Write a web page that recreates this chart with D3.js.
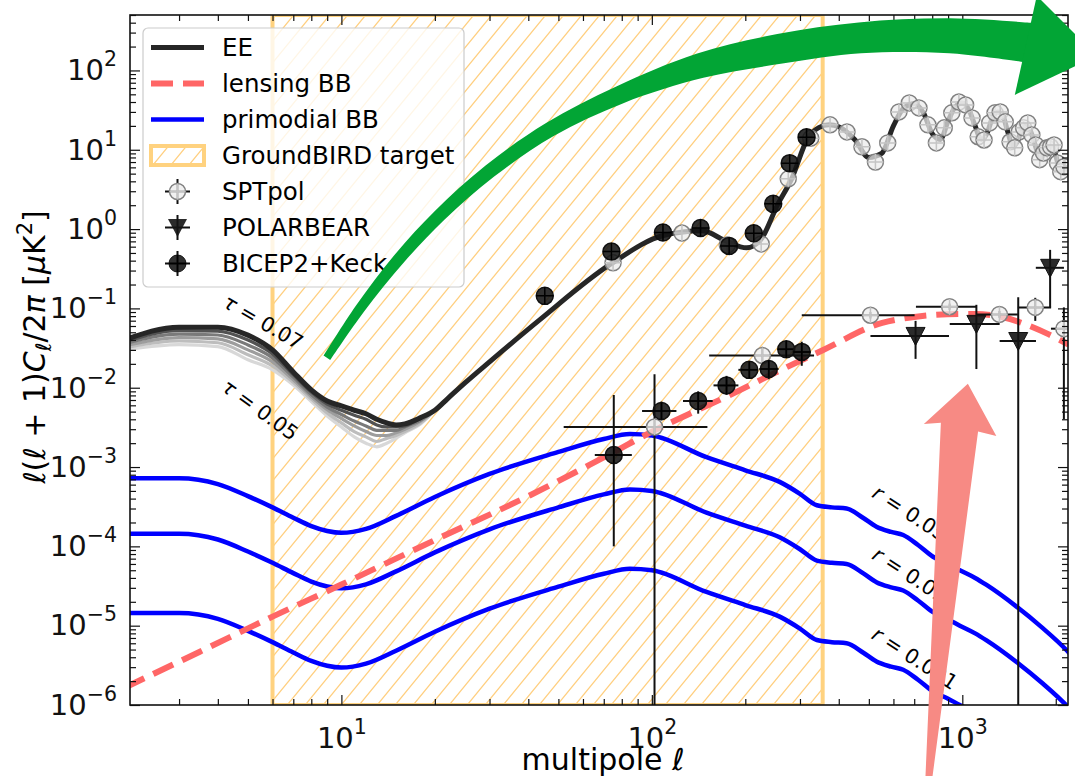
<!DOCTYPE html>
<html>
<head>
<meta charset="utf-8">
<script src="https://d3js.org/d3.v7.min.js"></script>
<style>
  body { margin: 0; background: #fff; }
  svg { display: block; font-family: "DejaVu Sans", sans-serif; }
</style>
</head>
<body>
<svg id="chart" width="1075" height="776"></svg>
<script>
// ---- data ----
// low-l EE reionization bump for tau = 0.05 ... 0.07
var lowEll   = [2, 3, 4, 5, 6, 7, 8, 9, 10, 11, 12, 13, 14, 15, 16, 18, 20];
var eeTau050 = [0.0300, 0.0350, 0.0330, 0.0225, 0.0168, 0.0108, 0.0067, 0.0044, 0.0032, 0.0024, 0.0020, 0.0018, 0.0020, 0.0023, 0.0027, 0.0035, 0.0052];
var eeTau054 = [0.0318, 0.0388, 0.0369, 0.0260, 0.0189, 0.0117, 0.0072, 0.0048, 0.0036, 0.0028, 0.0024, 0.0021, 0.0023, 0.0025, 0.0028, 0.0036, 0.0052];
var eeTau058 = [0.0337, 0.0429, 0.0413, 0.0300, 0.0212, 0.0126, 0.0077, 0.0053, 0.0041, 0.0033, 0.0028, 0.0025, 0.0025, 0.0027, 0.0030, 0.0038, 0.0052];
var eeTau062 = [0.0357, 0.0474, 0.0462, 0.0346, 0.0238, 0.0136, 0.0082, 0.0057, 0.0046, 0.0038, 0.0033, 0.0029, 0.0029, 0.0029, 0.0032, 0.0039, 0.0052];
var eeTau066 = [0.0378, 0.0525, 0.0518, 0.0399, 0.0267, 0.0146, 0.0088, 0.0062, 0.0052, 0.0045, 0.0040, 0.0034, 0.0032, 0.0032, 0.0033, 0.0041, 0.0052];
var eeTau070 = [0.0400, 0.0580, 0.0580, 0.0460, 0.0300, 0.0158, 0.0094, 0.0068, 0.0059, 0.0052, 0.0047, 0.0040, 0.0036, 0.0034, 0.0035, 0.0042, 0.0052];

// EE theory above l = 20
var eeEll = [22, 25, 30, 43.5, 74, 109, 145, 173, 202, 224, 254, 282, 318, 345, 372, 400, 450, 500, 550, 600, 650, 700, 750, 800, 850, 900, 950, 1000, 1050, 1100, 1150, 1200, 1250, 1300, 1350, 1400, 1450, 1500, 1550, 1600, 1650, 1700, 1750, 1800, 1850, 1900, 1950, 2000, 2050, 2100, 2200];
var eeVal = [0.0073, 0.0115, 0.0212, 0.0716, 0.366, 0.83, 0.95, 0.71, 0.58, 0.73, 2.02, 4.3, 14.0, 19.0, 20.6, 19.5, 13.5, 8.0, 9.0, 20, 34, 38, 29, 16, 13.5, 23, 35, 39, 32, 20, 13.5, 16, 25, 30, 27, 17, 11.5, 12.5, 17.5, 20.5, 18, 13, 9, 8, 9.5, 11, 11, 8.5, 6, 5.5, 6];

// lensing BB
var lensEll = [2, 3.5, 6, 10, 20, 40, 72, 102, 140, 174, 250, 355, 552, 700, 895, 1100, 1300, 1605, 1900, 2200];
var lensVal = [1.65e-6, 4.7e-6, 1.3e-5, 3.3e-5, 1.2e-4, 4.3e-4, 1.4e-3, 2.9e-3, 5.2e-3, 7.7e-3, 0.0155, 0.0297, 0.0656, 0.078, 0.0843, 0.085, 0.080, 0.0625, 0.047, 0.035];

// primordial BB for r = 0.05, 0.01, 0.001
var primEll  = [2, 3, 4, 5, 6, 7, 8, 9, 10, 12, 15, 20, 30, 50, 70, 85, 100, 150, 200, 258, 300, 340, 380, 424, 480, 529, 590, 645, 720, 805, 900, 982, 1100, 1197, 1495, 1800, 2168, 2300];
var primR005 = [7.2e-4, 7.2e-4, 6.1e-4, 4.3e-4, 3.1e-4, 2.3e-4, 1.8e-4, 1.56e-4, 1.48e-4, 1.66e-4, 2.42e-4, 4.2e-4, 8.2e-4, 1.55e-3, 2.26e-3, 2.61e-3, 2.5e-3, 1.33e-3, 9.1e-4, 6.5e-4, 4.6e-4, 3.3e-4, 3.1e-4, 3.0e-4, 2.28e-4, 1.77e-4, 1.52e-4, 1.39e-4, 1.04e-4, 7.4e-5, 6.0e-5, 5.0e-5, 4.0e-5, 3.26e-5, 1.74e-5, 9.6e-6, 4.9e-6, 3.8e-6];
var primR001 = [1.44e-4, 1.44e-4, 1.22e-4, 8.6e-5, 6.2e-5, 4.6e-5, 3.6e-5, 3.12e-5, 2.96e-5, 3.32e-5, 4.84e-5, 8.4e-5, 1.64e-4, 3.1e-4, 4.52e-4, 5.22e-4, 5.0e-4, 2.66e-4, 1.82e-4, 1.3e-4, 9.2e-5, 6.6e-5, 6.2e-5, 6.0e-5, 4.56e-5, 3.54e-5, 3.04e-5, 2.78e-5, 2.08e-5, 1.48e-5, 1.2e-5, 1.0e-5, 8.0e-6, 6.52e-6, 3.48e-6, 1.92e-6, 9.8e-7, 7.6e-7];
var primR0001 = [1.44e-5, 1.44e-5, 1.22e-5, 8.6e-6, 6.2e-6, 4.6e-6, 3.6e-6, 3.12e-6, 2.96e-6, 3.32e-6, 4.84e-6, 8.4e-6, 1.64e-5, 3.1e-5, 4.52e-5, 5.22e-5, 5.0e-5, 2.66e-5, 1.82e-5, 1.3e-5, 9.2e-6, 6.6e-6, 6.2e-6, 6.0e-6, 4.56e-6, 3.54e-6, 3.04e-6, 2.78e-6, 2.08e-6, 1.48e-6, 1.2e-6, 1.0e-6, 8.0e-7, 6.52e-7, 3.48e-7, 1.92e-7, 9.8e-8, 7.6e-8];

// GroundBIRD multipole range
var targetRange = [6, 355];

// SPTpol EE band powers
var sptEEEll = [75, 125, 175, 225, 275, 325, 375, 425, 475, 525, 575, 625, 675, 725, 775, 825, 875, 925, 975, 1025, 1075, 1125, 1175, 1225, 1275, 1325, 1375, 1425, 1475, 1525, 1575, 1625, 1675, 1725, 1775, 1825, 1875, 1925, 1975, 2025, 2075, 2125];
var sptEEVal = [0.375, 0.891, 0.628, 0.650, 4.30, 14.0, 20.6, 16.8, 10.9, 7.0, 12.2, 30.0, 39.0, 33.7, 20.6, 12.2, 18.9, 29.2, 40.0, 36.8, 25.2, 14.6, 13.3, 21.8, 29.2, 30.0, 22.5, 12.6, 10.6, 16.8, 18.9, 21.8, 15.4, 11.5, 7.5, 9.1, 10.6, 10.9, 11.5, 6.8, 5.3, 6.1];

// BICEP2+Keck EE
var bkEEEll = [45.2, 74.1, 108.6, 143.5, 177.4, 213, 246, 278, 315];
var bkEEVal = [0.144, 0.52, 0.904, 1.03, 0.614, 0.888, 2.08, 6.78, 14.4];

// SPTpol BB
var sptBBEll   = [102, 227, 506, 910, 1317, 1718, 2124];
var sptBBVal   = [0.0032, 0.0255, 0.082, 0.105, 0.084, 0.103, 0.0555];
var sptBBEllLo = [52, 153, 304, 709, 1110, 1510, 1930];
var sptBBEllHi = [151, 333, 702, 1107, 1510, 1932, 2320];
var sptBBLo    = [1e-9, 0.020, 0.0745, 0.096, 0.076, 0.0696, 0.0040];
var sptBBHi    = [0.0148, 0.0327, 0.090, 0.115, 0.093, 0.136, 0.103];

// POLARBEAR BB
var pbEll   = [707, 1110, 1514, 1918];
var pbVal   = [0.045, 0.0638, 0.0388, 0.325];
var pbEllLo = [506, 911, 1319, 1725];
var pbEllHi = [906, 1319, 1727, 2125];
var pbLo    = [0.0231, 0.0172, 1e-9, 0.103];
var pbHi    = [0.0696, 0.111, 0.138, 0.547];

// BICEP2+Keck BB
var bkBBEll   = [75.4, 107.4, 141, 174, 206, 238, 271, 304];
var bkBBVal   = [0.00142, 0.0051, 0.0068, 0.0107, 0.0168, 0.0172, 0.0306, 0.0283];
var bkBBEllLo = [65.5, 93, 126, 158, 190, 222, 256, 288];
var bkBBEllHi = [86.2, 120, 157, 190, 218, 256, 288, 322];
var bkBBLo    = [1.0e-4, 0.00387, 0.00471, 0.00813, 0.0134, 0.0128, 0.0243, 0.0189];
var bkBBHi    = [0.0081, 0.00668, 0.0090, 0.0141, 0.021, 0.0217, 0.038, 0.038];

// ticks
var xMajor = [10, 100, 1000];
var yMajor = [1e-6, 1e-5, 1e-4, 1e-3, 1e-2, 1e-1, 1, 10, 100];

var legendLabels = ["EE", "lensing BB", "primodial BB", "GroundBIRD target", "SPTpol", "POLARBEAR", "BICEP2+Keck"];

// ---- layout ----
var axL = 130, axR = 1068, axT = 15, axB = 705;
var svg = d3.select("#chart");

var x = d3.scaleLog().domain([2.085, 2190]).range([axL, axR]);
var y = d3.scaleLog().domain([1e-6, 500]).range([axB, axT]);

var defs = svg.append("defs");
defs.append("clipPath").attr("id", "plotclip")
  .append("rect").attr("x", axL).attr("y", axT)
  .attr("width", axR - axL).attr("height", axB - axT);
var hatch = defs.append("pattern").attr("id", "hatch")
  .attr("patternUnits", "userSpaceOnUse").attr("width", 18).attr("height", 22);
hatch.append("path").attr("d", "M-3,3.67 L3,-3.67 M0,22 L18,0 M15,25.67 L21,18.33")
  .attr("stroke", "#ffcf80").attr("stroke-width", 1.3);

var plot = svg.append("g").attr("clip-path", "url(#plotclip)");

// target band
plot.append("rect")
  .attr("x", x(targetRange[0])).attr("y", axT)
  .attr("width", x(targetRange[1]) - x(targetRange[0])).attr("height", axB - axT)
  .attr("fill", "url(#hatch)").attr("stroke", "#ffd27f").attr("stroke-width", 4);

var line = d3.line().x(function (d) { return x(d[0]); }).y(function (d) { return y(d[1]); })
  .curve(d3.curveMonotoneX);
function pairs(ell, val) { return ell.map(function (l, i) { return [l, val[i]]; }); }

// EE, light tau first, darkest last (continues as the full EE spectrum)
var tauSets = [eeTau050, eeTau054, eeTau058, eeTau062, eeTau066];
var tauColors = ["#d8d8d8", "#bdbdbd", "#9d9d9d", "#7a7a7a", "#525252"];
tauSets.forEach(function (vals, i) {
  plot.append("path").attr("d", line(pairs(lowEll, vals)))
    .attr("fill", "none").attr("stroke", tauColors[i]).attr("stroke-width", 3.2)
    .attr("stroke-linejoin", "round");
});
plot.append("path").attr("d", line(pairs(lowEll, eeTau070).concat(pairs(eeEll, eeVal))))
  .attr("fill", "none").attr("stroke", "#262626").attr("stroke-width", 5)
  .attr("stroke-linejoin", "round");

// primordial BB
[primR005, primR001, primR0001].forEach(function (vals) {
  plot.append("path").attr("d", line(pairs(primEll, vals)))
    .attr("fill", "none").attr("stroke", "#0000ff").attr("stroke-width", 4.5);
});

// lensing BB
plot.append("path").attr("d", line(pairs(lensEll, lensVal)))
  .attr("fill", "none").attr("stroke", "#ff6666").attr("stroke-width", 6)
  .attr("stroke-dasharray", "22,10");

// error bars
function errorbars(ell, val, ellLo, ellHi, lo, hi) {
  var g = plot.append("g").attr("stroke", "#111").attr("stroke-width", 2);
  ell.forEach(function (l, i) {
    g.append("line").attr("x1", x(ellLo[i])).attr("x2", x(ellHi[i]))
      .attr("y1", y(val[i])).attr("y2", y(val[i]));
    g.append("line").attr("x1", x(l)).attr("x2", x(l))
      .attr("y1", y(lo[i])).attr("y2", y(hi[i]));
  });
}

function circles(ell, val, r, fill, stroke, crossColor) {
  var g = plot.append("g");
  ell.forEach(function (l, i) {
    var cx = x(l), cy = y(val[i]);
    g.append("circle").attr("cx", cx).attr("cy", cy).attr("r", r)
      .attr("fill", fill).attr("stroke", stroke).attr("stroke-width", 1.5);
    g.append("path").attr("d", "M" + (cx - r) + "," + cy + "h" + (2 * r) + "M" + cx + "," + (cy - r) + "v" + (2 * r))
      .attr("stroke", crossColor).attr("stroke-width", 1.5);
  });
}

function triangles(ell, val) {
  var g = plot.append("g");
  ell.forEach(function (l, i) {
    g.append("path")
      .attr("transform", "translate(" + x(l) + "," + y(val[i]) + ")")
      .attr("d", "M-9.5,-8.5 L9.5,-8.5 L0,9.5 Z")
      .attr("fill", "rgba(20,20,20,0.9)").attr("stroke", "#111").attr("stroke-width", 1);
  });
}

var sptFill = "rgba(236,236,236,0.72)", bkFill = "rgba(20,20,20,0.88)";
circles(sptEEEll, sptEEVal, 8, sptFill, "#808080", "#c4c4c4");
circles(bkEEEll, bkEEVal, 8.5, bkFill, "#111", "#000");

errorbars(sptBBEll, sptBBVal, sptBBEllLo, sptBBEllHi, sptBBLo, sptBBHi);
circles(sptBBEll, sptBBVal, 8, sptFill, "#808080", "#c4c4c4");
errorbars(pbEll, pbVal, pbEllLo, pbEllHi, pbLo, pbHi);
triangles(pbEll, pbVal);
errorbars(bkBBEll, bkBBVal, bkBBEllLo, bkBBEllHi, bkBBLo, bkBBHi);
circles(bkBBEll, bkBBVal, 8.5, bkFill, "#111", "#000");

// curve annotations
function note(ell, val, angle, parts) {
  var t = svg.append("text")
    .attr("transform", "translate(" + x(ell) + "," + y(val) + ") rotate(" + angle + ")")
    .attr("text-anchor", "middle").attr("dominant-baseline", "central")
    .attr("font-size", 20.5).attr("fill", "#000");
  parts.forEach(function (p) {
    t.append("tspan").attr("font-style", p[1] ? "italic" : null).text(p[0]);
  });
}
note(5.60, 0.0670, 30, [["τ", 1], [" = 0.07", 0]]);
note(5.47, 0.00525, 36, [["τ", 1], [" = 0.05", 0]]);
note(678, 2.61e-4, 33, [["r", 1], [" = 0.05", 0]]);
note(678, 4.35e-5, 33, [["r", 1], [" = 0.01", 0]]);
note(703, 3.88e-6, 33, [["r", 1], [" = 0.001", 0]]);

// ---- axes ----
var xMinor = [], yMinor = [];
[1, 10, 100, 1000].forEach(function (d) {
  for (var m = 2; m <= 9; m++) { if (m * d >= 2.085 && m * d <= 2190) xMinor.push(m * d); }
});
yMajor.forEach(function (d) {
  for (var m = 2; m <= 9; m++) { if (m * d <= 500) yMinor.push(m * d); }
});
function sup(v) { var e = Math.round(Math.log10(v)); return (e < 0 ? "\u2212" : "") + Math.abs(e); }

function styleAxis(g) {
  g.select(".domain").remove();
  g.attr("color", "#111").attr("font-family", "DejaVu Sans").attr("font-size", 29);
  g.selectAll(".tick line").attr("stroke-width", 1.2);
}

var gxb = svg.append("g").attr("transform", "translate(0," + axB + ")")
  .call(d3.axisBottom(x).tickValues(xMajor).tickSizeInner(-10).tickSizeOuter(0).tickPadding(22).tickFormat(""))
  .call(styleAxis);
gxb.selectAll(".tick text").each(function (d) {
  var t = d3.select(this);
  t.append("tspan").text("10");
  t.append("tspan").attr("dy", -14).attr("font-size", 20.5).text(sup(d));
});
svg.append("g").attr("transform", "translate(0," + axB + ")")
  .call(d3.axisBottom(x).tickValues(xMinor).tickSizeInner(-6).tickSizeOuter(0).tickFormat(""))
  .call(styleAxis);
svg.append("g").attr("transform", "translate(0," + axT + ")")
  .call(d3.axisTop(x).tickValues(xMajor).tickSizeInner(-10).tickSizeOuter(0).tickFormat(""))
  .call(styleAxis);
svg.append("g").attr("transform", "translate(0," + axT + ")")
  .call(d3.axisTop(x).tickValues(xMinor).tickSizeInner(-6).tickSizeOuter(0).tickFormat(""))
  .call(styleAxis);

var gyl = svg.append("g").attr("transform", "translate(" + axL + ",0)")
  .call(d3.axisLeft(y).tickValues(yMajor).tickSizeInner(-10).tickSizeOuter(0).tickPadding(13).tickFormat(""))
  .call(styleAxis);
gyl.selectAll(".tick text").each(function (d) {
  var t = d3.select(this);
  t.append("tspan").text("10");
  t.append("tspan").attr("dy", -14).attr("font-size", 20.5).text(sup(d));
});
svg.append("g").attr("transform", "translate(" + axL + ",0)")
  .call(d3.axisLeft(y).tickValues(yMinor).tickSizeInner(-6).tickSizeOuter(0).tickFormat(""))
  .call(styleAxis);
svg.append("g").attr("transform", "translate(" + axR + ",0)")
  .call(d3.axisRight(y).tickValues(yMajor).tickSizeInner(-10).tickSizeOuter(0).tickFormat(""))
  .call(styleAxis);
svg.append("g").attr("transform", "translate(" + axR + ",0)")
  .call(d3.axisRight(y).tickValues(yMinor).tickSizeInner(-6).tickSizeOuter(0).tickFormat(""))
  .call(styleAxis);

svg.append("rect").attr("x", axL).attr("y", axT)
  .attr("width", axR - axL).attr("height", axB - axT)
  .attr("fill", "none").attr("stroke", "#111").attr("stroke-width", 1.6);

// axis labels
var xl = svg.append("text").attr("x", (axL + axR) / 2 + 4).attr("y", 770)
  .attr("text-anchor", "middle").attr("font-size", 30);
xl.append("tspan").text("multipole ");
xl.append("tspan").attr("font-style", "italic").text("ℓ");

var yl = svg.append("text").attr("transform", "translate(45,347) rotate(-90)")
  .attr("text-anchor", "middle").attr("font-size", 30);
yl.append("tspan").attr("font-style", "italic").text("ℓ");
yl.append("tspan").text("(");
yl.append("tspan").attr("font-style", "italic").text("ℓ");
yl.append("tspan").text(" + 1)");
yl.append("tspan").attr("font-style", "italic").text("C");
yl.append("tspan").attr("font-style", "italic").attr("font-size", 21).attr("dy", 6).text("ℓ");
yl.append("tspan").attr("dy", -6).text("/2");
yl.append("tspan").attr("font-style", "italic").text("π");
yl.append("tspan").text(" [");
yl.append("tspan").attr("font-style", "italic").text("μ");
yl.append("tspan").text("K");
yl.append("tspan").attr("font-size", 21).attr("dy", -13).text("2");
yl.append("tspan").attr("dy", 13).text("]");

// ---- legend ----
var lg = svg.append("g");
lg.append("rect").attr("x", 143).attr("y", 28).attr("width", 321).attr("height", 259).attr("rx", 5)
  .attr("fill", "rgba(255,255,255,0.8)").attr("stroke", "#cccccc").attr("stroke-width", 1.2);
var ly = function (i) { return 47.5 + i * 36; };
var hx0 = 151, hx1 = 204, hxc = 177.5;
lg.append("line").attr("x1", hx0).attr("x2", hx1).attr("y1", ly(0)).attr("y2", ly(0))
  .attr("stroke", "#262626").attr("stroke-width", 5);
lg.append("line").attr("x1", hx0).attr("x2", hx1).attr("y1", ly(1)).attr("y2", ly(1))
  .attr("stroke", "#ff6666").attr("stroke-width", 6).attr("stroke-dasharray", "22,10");
lg.append("line").attr("x1", hx0).attr("x2", hx1).attr("y1", ly(2)).attr("y2", ly(2))
  .attr("stroke", "#0000ff").attr("stroke-width", 4.5);
lg.append("rect").attr("x", hx0).attr("y", ly(3) - 9.5).attr("width", hx1 - hx0).attr("height", 19)
  .attr("fill", "url(#hatch)").attr("stroke", "#ffd27f").attr("stroke-width", 4);
function legendCross(cy, color) {
  lg.append("path").attr("d", "M" + (hxc - 12.5) + "," + cy + "h25M" + hxc + "," + (cy - 12.5) + "v25")
    .attr("stroke", color).attr("stroke-width", 2);
}
legendCross(ly(4), "#111");
lg.append("circle").attr("cx", hxc).attr("cy", ly(4)).attr("r", 8)
  .attr("fill", sptFill).attr("stroke", "#808080").attr("stroke-width", 1.5);
lg.append("path").attr("d", "M" + (hxc - 8) + "," + ly(4) + "h16M" + hxc + "," + (ly(4) - 8) + "v16")
  .attr("stroke", "#c4c4c4").attr("stroke-width", 1.5);
legendCross(ly(5), "#111");
lg.append("path").attr("transform", "translate(" + hxc + "," + ly(5) + ")")
  .attr("d", "M-9.5,-8.5 L9.5,-8.5 L0,9.5 Z").attr("fill", "rgba(20,20,20,0.9)");
legendCross(ly(6), "#111");
lg.append("circle").attr("cx", hxc).attr("cy", ly(6)).attr("r", 8.5)
  .attr("fill", bkFill).attr("stroke", "#111");
lg.append("path").attr("d", "M" + (hxc - 8.5) + "," + ly(6) + "h17M" + hxc + "," + (ly(6) - 8.5) + "v17")
  .attr("stroke", "#000").attr("stroke-width", 1.5);
legendLabels.forEach(function (s, i) {
  lg.append("text").attr("x", 222).attr("y", ly(i)).attr("dominant-baseline", "central")
    .attr("font-size", 24.5).attr("fill", "#000").text(s);
});

// ---- overlay arrows (anchored in data coordinates) ----
var greenEll = [8.98, 11.47, 15.43, 20.76, 30.08, 46.94, 78.87, 142.8, 258.4, 467.8, 911.3, 1650];
var greenVal = [0.0238, 0.0991, 0.434, 1.502, 5.387, 18.03, 49.24, 114.3, 187.3, 257.7, 273.1, 222.8];
var greenWidth = [8, 10, 12, 13, 14, 15, 18, 25, 30, 31, 35, 40];
var gp = greenEll.map(function (l, i) { return [x(l), y(greenVal[i])]; });
var upper = [], lower = [];
gp.forEach(function (p, i) {
  var a = gp[Math.max(i - 1, 0)], b = gp[Math.min(i + 1, gp.length - 1)];
  var dx = b[0] - a[0], dy = b[1] - a[1], len = Math.hypot(dx, dy);
  var nx = -dy / len, ny = dx / len, h = greenWidth[i] / 2;
  upper.push([p[0] + nx * h, p[1] + ny * h]);
  lower.push([p[0] - nx * h, p[1] - ny * h]);
});
var edge = d3.line().curve(d3.curveCatmullRom);
svg.append("path")
  .attr("d", edge(upper) + "L" + edge(lower.reverse()).slice(1) + "Z")
  .attr("fill", "#02a535");
var headEll = [1738, 2712, 1476], headVal = [873, 153, 49.2];
svg.append("path")
  .attr("d", d3.line()(headEll.map(function (l, i) { return [x(l), y(headVal[i])]; })) + "Z")
  .attr("fill", "#02a535");

var pinkEll = [761, 802, 1124, 1287, 1042, 752, 853];
var pinkVal = [1.27e-7, 1.27e-7, 2.80e-3, 2.47e-3, 0.0112, 3.50e-3, 3.63e-3];
svg.append("path")
  .attr("d", d3.line()(pinkEll.map(function (l, i) { return [x(l), y(pinkVal[i])]; })) + "Z")
  .attr("fill", "#f78a84");
</script>
</body>
</html>
